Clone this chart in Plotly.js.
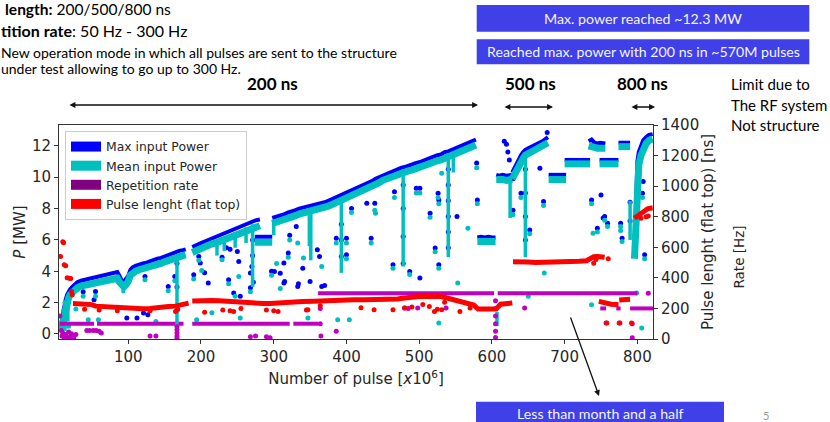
<!DOCTYPE html>
<html><head><meta charset="utf-8">
<script src="https://cdn.plot.ly/plotly-3.0.1.min.js"></script>
<style>html,body{margin:0;padding:0;background:#fff}#chart{width:830px;height:422px}</style>
</head><body><div id="chart"></div>
<script>
// ---------------- data ----------------
const xTicks = [100,200,300,400,500,600,700,800];
const yTicksP = [0,2,4,6,8,10,12];
const yTicksNs = [0,200,400,600,800,1000,1200,1400];

// dense bands (max / mean input power, MW), segments separated by null
const bandX = [8,10,12,14,16,18,20,23,26,30,35,40,45,50,55,60,65,70,75,80,85,88,91,94,97,100,103,106,110,115,120,125,130,135,140,145,150,155,160,165,170,175,179,null,
 188,192,196,200,205,210,215,220,225,230,235,240,245,250,255,260,265,270,275,281,null,
 274,278,282,286,290,294,298,null,
 298,302,306,310,315,320,325,330,335,340,345,350,355,360,365,370,375,380,385,390,395,400,405,410,415,420,425,430,435,440,445,450,455,460,465,470,475,480,485,490,495,500,505,510,515,520,525,530,535,540,545,550,555,560,565,570,575,578,null,
 580,585,590,595,600,605,null,
 606,610,615,620,628,null,
 628,631,634,637,640,643,646,650,655,660,665,670,674,677,null,
 678,683,688,693,698,702,null,
 700,706,712,718,724,730,735,null,
 733,737,741,745,749,753,756,null,
 748,753,758,763,768,774,null,
 774,778,782,786,790,null,
 796,797,798,799,800,802,805,808,812,816,821];
const maxPower = [0.7,1.3,1.8,2.2,2.5,2.7,2.85,3.0,3.15,3.3,3.4,3.45,3.5,3.55,3.6,3.7,3.75,3.8,3.85,3.9,3.95,3.7,3.4,3.35,3.5,3.7,4.1,4.25,4.35,4.45,4.5,4.55,4.65,4.7,4.8,4.85,4.95,5.05,5.15,5.25,5.3,5.35,5.4,null,
 5.55,5.65,5.75,5.8,5.9,6.0,6.1,6.2,6.3,6.4,6.45,6.55,6.65,6.75,6.85,6.95,7.05,7.15,7.25,7.3,null,
 6.2,6.2,6.2,6.2,6.2,6.2,6.2,null,
 7.4,7.45,7.5,7.6,7.65,7.75,7.8,7.9,8.0,8.05,8.1,8.15,8.2,8.25,8.3,8.4,8.5,8.6,8.7,8.8,8.9,9.0,9.1,9.2,9.3,9.4,9.5,9.65,9.75,9.9,10.0,10.15,10.25,10.35,10.45,10.5,10.6,10.65,10.75,10.8,10.9,10.95,11.05,11.1,11.2,11.3,11.4,11.45,11.6,11.65,11.75,11.85,11.9,12.0,12.1,12.2,12.3,12.4,null,
 6.15,6.2,6.15,6.2,6.15,6.15,null,
 10.15,10.1,10.15,10.1,10.15,null,
 10.3,10.6,10.9,11.2,11.4,11.6,11.75,11.85,11.95,12.05,12.15,12.3,12.45,12.55,null,
 10.15,10.15,10.15,10.15,10.15,10.15,null,
 11.1,11.1,11.1,11.1,11.1,11.1,11.1,null,
 12.3,12.4,12.2,12.15,12.2,12.15,12.15,null,
 11.1,11.1,11.1,11.1,11.1,11.1,null,
 12.2,12.2,12.2,12.2,12.2,null,
 4.9,7.0,9.0,10.2,11.0,11.6,12.0,12.35,12.55,12.7,12.75];
const meanPower = [0.3,0.8,1.3,1.7,2.0,2.3,2.5,2.65,2.8,2.95,3.05,3.1,3.15,3.2,3.25,3.35,3.4,3.45,3.5,3.55,3.55,3.3,3.05,3.0,3.15,3.35,3.75,3.9,4.0,4.1,4.15,4.2,4.3,4.35,4.45,4.5,4.6,4.7,4.8,4.9,4.95,5.0,5.05,null,
 5.2,5.3,5.4,5.45,5.55,5.65,5.75,5.8,5.9,6.0,6.05,6.15,6.25,6.35,6.45,6.55,6.65,6.75,6.85,6.9,null,
 5.85,5.85,5.85,5.85,5.85,5.85,5.85,null,
 7.05,7.1,7.15,7.25,7.3,7.4,7.45,7.55,7.65,7.7,7.75,7.8,7.85,7.9,7.95,8.05,8.15,8.25,8.35,8.45,8.55,8.65,8.75,8.85,8.95,9.05,9.15,9.3,9.4,9.55,9.65,9.8,9.9,10.0,10.1,10.15,10.25,10.3,10.4,10.45,10.55,10.6,10.7,10.75,10.85,10.95,11.05,11.1,11.25,11.3,11.4,11.5,11.55,11.65,11.75,11.85,11.95,12.05,null,
 5.9,5.9,5.9,5.9,5.9,5.9,null,
 9.85,9.8,9.85,9.8,9.85,null,
 9.9,10.2,10.5,10.8,11.0,11.2,11.4,11.5,11.6,11.7,11.8,11.95,12.1,12.2,null,
 9.85,9.85,9.85,9.85,9.85,9.85,null,
 10.85,10.85,10.85,10.85,10.85,10.85,10.85,null,
 12.0,12.0,11.9,11.85,11.9,11.85,11.85,null,
 10.85,10.85,10.85,10.85,10.85,10.85,null,
 11.95,11.95,11.95,11.95,11.95,null,
 4.8,5.6,7.5,8.8,9.8,10.8,11.4,11.85,12.15,12.35,12.45];

// vertical streaks of mean power (x, top, bottom)
const streakX   = [13,17,93,167,222,232,247,262,271,300,349,351,393,478,540,547,607,625,646,790];
const streakTop = [2.0,2.4,3.3,5.1,6.0,6.2,6.5,6.8,7.0,7.2,7.9,8.0,8.6,10.5,11.5,11.6,1.4,9.9,11.5,8.5];
const streakBot = [0.2,0.8,2.6,0.0,5.0,5.3,5.5,5.8,3.0,6.3,5.6,4.7,3.9,4.3,4.9,10.3,0.5,7.4,4.9,6.0];

// isolated max-power points
const maxOutX = [38,53,55,98,112,121,123,127,155,164,167,167,167,190,197,199,205,210,229,235,238,240,245,250,252,254,268,268,270,271,271,272,297,301,309,314,314,315,320,322,331,333,334,340,350,360,363,366,370,386,393,393,393,400,400,407,428,434,439,464,466,478,478,478,478,487,496,501,501,515,522,526,527,527,540,540,540,540,540,540,552,579,580,617,620,622,624,629,629,640,646,646,646,646,652,666,671,676,737,745,750,753,755,759,777,779,790,790,807,808,810];
const maxOutY = [2.7,2.18,2.71,1.02,1.02,1.34,3.67,1.23,3.03,3.67,4.5,3.0,1.5,3.78,4.94,4.52,3.9,3.25,4.9,5.5,3.46,5.4,2.61,5.26,4.62,2.4,3.89,2.95,4.3,6.0,5.0,3.3,4.0,3.99,3.88,3.25,4.52,3.35,5.16,6.3,6.85,3.03,3.2,4.2,3.35,5.37,4.94,3.03,3.1,6.1,4.94,7.0,6.0,6.1,5.05,8.0,8.34,6.1,8.34,4.41,9.08,9.5,8.0,6.22,4.5,3.99,9.3,9.3,3.57,7.7,5.48,8.98,8.55,4.41,10.5,9.5,8.5,7.5,6.5,5.5,7.49,10.9,8.55,12.3,12.1,11.6,11.1,7.9,9.9,8.98,10.5,9.0,7.5,6.0,6.64,10.57,8.45,12.85,8.55,6.75,8.87,7.4,7.49,7.07,7.07,6.1,8.4,7.2,8.98,9.72,5.05];

// isolated mean-power points
const meanOutX = [11,13,15,18,28,30,38,45,48,55,59,123,138,155,164,190,194,197,201,215,229,238,247,252,254,268,297,304,309,320,322,333,341,347,366,388,386,400,400,404,407,434,439,440,464,466,487,496,501,515,522,526,527,527,527,531,553,567,579,580,629,640,650,652,671,672,737,737,739,745,755,759,777,777,779,799,806,807,810];
const meanOutY = [1.5,2.0,1.0,0.5,1.6,2.82,2.4,0.9,3.14,2.4,0.91,3.46,0.8,2.75,3.4,3.5,0.91,4.7,4.05,1.36,4.73,3.2,2.4,3.67,1.02,2.7,3.75,4.5,2.9,4.9,6.0,5.8,4.85,1.02,4.3,0.91,5.8,5.8,4.8,0.91,7.75,5.8,7.9,7.7,4.2,8.7,3.8,9.0,9.0,7.45,5.25,8.7,8.3,4.2,0.7,10.25,3.25,6.75,10.6,8.3,7.6,8.7,2.4,6.4,8.2,3.89,8.3,1.87,6.43,6.5,7.25,6.85,6.85,6.6,5.9,2.61,0.38,8.7,4.8];

// repetition rate (Hz, right scale)
const rateX = [6,53,null,57,165,null,169,176,null,188,322,null,327,361,null,361,603,null,608,800,null,749,757,null,771,777,null,790,822];
const rateY = [100,100,null,100,100,null,100,100,null,100,100,null,100,100,null,300,300,null,300,300,null,200,200,null,200,200,null,200,200];
const rateDotX = [6,8,9,10,12,14,16,18,20,22,25,28,43,47,52,56,60,63,130,138,167,167,167,167,167,268,275,290,295,364,364,365,386,480,485,498,537,605,605,605,605,605,605,645,757,775,793,793,815];
const rateDotY = [150,55,20,40,10,30,5,45,15,35,10,30,55,55,55,55,50,40,20,20,80,60,40,20,5,15,20,15,8,200,100,20,50,202,200,202,202,250,200,150,100,50,10,202,105,105,100,8,300];

// pulse length flat top (ns, right scale)
const pulseX = [24,30,40,50,55,65,75,85,92,100,110,120,130,137,145,155,165,172,178,183,null,
 188,195,205,215,225,235,245,255,265,275,285,295,310,325,340,355,365,380,395,410,425,440,455,470,480,490,500,510,520,530,537,545,552,560,567,575,581,590,600,606,612,620,628,null,
 629,640,650,660,670,680,690,700,710,720,730,735,740,745,750,755,null,
 747,752,758,764,770,774,null,
 775,780,785,790,null,
 796,798,800,803,806,810,814,818,821];
const pulseY = [232,230,228,225,215,212,210,210,205,200,198,198,200,205,208,212,215,225,232,235,null,
 248,250,252,252,250,246,240,236,235,233,232,232,238,243,246,247,250,252,254,256,257,258,258,262,268,275,278,280,282,278,270,260,250,242,228,222,196,196,196,196,228,232,235,null,
 505,508,503,500,500,502,504,505,507,508,512,530,538,540,538,535,null,
 246,240,230,228,226,226,null,
 255,258,258,260,null,
 790,798,805,815,830,845,852,856,858];
const pulseDotX = [7,10,11,12,14,16,19,21,22,23,40,60,85,130,165,168,205,230,240,245,255,290,300,306,345,347,364,420,438,464,480,490,505,514,521,525,531,535,556,570,740,743,760,758,776,792,805,812,815];
const pulseDotY = [540,637,630,485,480,400,398,395,311,290,195,190,185,185,180,195,175,190,185,180,200,190,185,180,190,191,217,205,191,191,202,210,225,213,180,195,191,240,180,202,495,520,525,105,105,105,790,800,805];

const legendNames = ['Max input Power','Mean input Power','Repetition rate','Pulse lenght (flat top)'];
const legendColors = ['#0000ff','#00bfbf','#800080','#ff0000'];

// ---------------- chart ----------------
const BLUE='#0000ff', CYAN='#00bfbf', MAG='#bf00bf', RED='#ff0000';
const streakXs=[], streakYs=[];
streakX.forEach((x,i)=>{streakXs.push(x,x,null); streakYs.push(streakTop[i],streakBot[i],null);});

const traces = [
 {x:bandX, y:maxPower, mode:'lines', line:{color:BLUE,width:4}, showlegend:false, hoverinfo:'skip'},
 {x:maxOutX, y:maxOutY, mode:'markers', marker:{color:BLUE,size:5}, showlegend:false},
 {x:bandX, y:meanPower, mode:'lines', line:{color:CYAN,width:7}, showlegend:false, hoverinfo:'skip'},
 {x:streakXs, y:streakYs, mode:'lines', line:{color:CYAN,width:3.5}, showlegend:false, hoverinfo:'skip'},
 {x:meanOutX, y:meanOutY, mode:'markers', marker:{color:CYAN,size:5}, showlegend:false},
 {x:rateX, y:rateY, yaxis:'y2', mode:'lines', line:{color:MAG,width:4}, showlegend:false, hoverinfo:'skip'},
 {x:rateDotX, y:rateDotY, yaxis:'y2', mode:'markers', marker:{color:MAG,size:5}, showlegend:false},
 {x:pulseX, y:pulseY, yaxis:'y2', mode:'lines', line:{color:RED,width:5}, showlegend:false, hoverinfo:'skip'},
 {x:pulseDotX, y:pulseDotY, yaxis:'y2', mode:'markers', marker:{color:RED,size:5}, showlegend:false}
];
legendNames.forEach((n,i)=>traces.push({x:[null],y:[null],mode:'lines',name:n,line:{color:legendColors[i],width:10},showlegend:true,hoverinfo:'skip'}));

const Lm=59, Tm=125, Wp=594, Hp=214;
const px = v => (v-Lm)/Wp;
const py = v => (Tm+Hp-v)/Hp;
const axFont = {family:'DejaVu Sans', size:15, color:'#262626'};
const slide = (size,color) => ({family:'Lato', size:size, color:color||'#000'});

function txt(t,x,y,xa,size,color,extra){
  return Object.assign({text:t, xref:'paper', yref:'paper', x:px(x), y:py(y), xanchor:xa, yanchor:'middle', showarrow:false, borderpad:0, font:slide(size,color)}, extra||{});
}
function arrow(x,y,ax,ay,both){
  return {text:'', xref:'paper', yref:'paper', x:px(x), y:py(y), ax:ax, ay:ay, axref:'pixel', ayref:'pixel', showarrow:true, arrowhead:2, startarrowhead:2, arrowside: both?'end+start':'end', arrowsize:0.9, startarrowsize:0.9, arrowwidth:1.3, arrowcolor:'#111', standoff:0, startstandoff:0};
}
function box(x0,y0,x1,y1){
  return {type:'rect', xref:'paper', yref:'paper', x0:px(x0), x1:px(x1), y0:py(y1), y1:py(y0), fillcolor:'#4040e8', line:{width:0}, layer:'above'};
}

const layout = {
  width:830, height:422,
  margin:{l:Lm, r:830-Lm-Wp, t:Tm, b:422-Tm-Hp},
  paper_bgcolor:'#fff', plot_bgcolor:'#fff',
  xaxis:{range:[4.8,821.5], tickvals:xTicks, ticks:'outside', ticklen:4, tickcolor:'#333', showline:true, mirror:true, linecolor:'#333', linewidth:1, showgrid:false, zeroline:false, tickfont:axFont,
    title:{text:'Number of pulse [<i>x</i>10<sup>6</sup>]', font:axFont, standoff:8}},
  yaxis:{range:[-0.32,13.33], tickvals:yTicksP, ticks:'outside', ticklen:4, tickcolor:'#333', showline:true, linecolor:'#333', linewidth:1, showgrid:false, zeroline:false, tickfont:axFont,
    title:{text:'<i>P</i> [MW]', font:axFont, standoff:2}},
  yaxis2:{overlaying:'y', side:'right', range:[0,1400], tickvals:yTicksNs, ticks:'outside', ticklen:4, tickcolor:'#333', showline:true, linecolor:'#333', linewidth:1, showgrid:false, zeroline:false, tickfont:axFont,
    title:{text:'Pulse lenght (flat top) [ns]', font:axFont, standoff:4}},
  showlegend:true,
  legend:{x:px(65), y:py(131), xanchor:'left', yanchor:'top', bgcolor:'rgba(255,255,255,0.85)', bordercolor:'#cccccc', borderwidth:1, font:{family:'DejaVu Sans', size:12.4, color:'#262626'}, tracegroupgap:0},
  shapes:[ box(476.7,5,809.3,31.7), box(476.7,39.3,809.3,64.3), box(476,401.7,724,430) ],
  annotations:[
    txt('<b>length:</b> 200/500/800 ns',4,9,'left',15.5),
    txt('<b>tition rate</b>: 50 Hz - 300 Hz',0,30,'left',16),
    txt('New operation mode in which all pulses are sent to the structure',0,53,'left',14),
    txt('under test allowing to go up to 300 Hz.',0,68.5,'left',14),
    txt('Max. power reached ~12.3 MW',643,18.5,'center',14.2,'#f4f4ff'),
    txt('Reached max. power with 200 ns in ~570M pulses',643,52,'center',14.2,'#f4f4ff'),
    txt('Less than month and a half',600,413,'center',14.2,'#f4f4ff'),
    txt('5',766,415,'center',11,'#999'),
    txt('<b>200 ns</b>',272,83,'center',17),
    txt('<b>500 ns</b>',530,83,'center',17),
    txt('<b>800 ns</b>',642,83,'center',17),
    txt('Limit due to',730,84,'left',15),
    txt('The RF system',730,105,'left',15),
    txt('Not structure',730,125,'left',15),
    Object.assign(txt('Rate [Hz]',738,257.5,'center',13,'#262626'),{textangle:-90, font:{family:'DejaVu Sans',size:13.5,color:'#262626'}}),
    arrow(478,105,-410,0,true),
    arrow(553,107,-50,0,true),
    arrow(655,107,-25,0,true),
    arrow(599,396,-29,-80,false)
  ]
};
Plotly.newPlot('chart', traces, layout, {staticPlot:true, displayModeBar:false});
</script></body></html>
